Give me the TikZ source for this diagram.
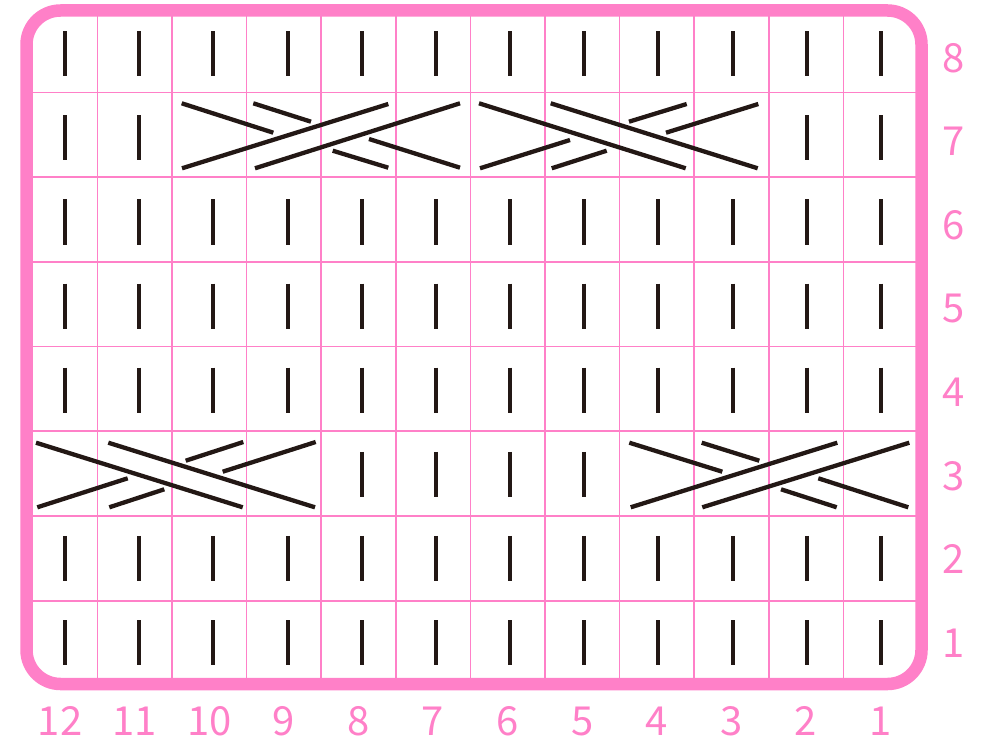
\documentclass[tikz,border=0pt]{standalone}
\usepackage{fontspec}
\newfontfamily\numfont{Noto Sans CJK JP}
\definecolor{pk}{HTML}{FF80C8}
\definecolor{ink}{HTML}{231815}
\begin{document}
\begin{tikzpicture}[x=1pt,y=-1pt,
  gridline/.style={draw=pk,line width=1.6pt},
  frame/.style={draw=pk,line width=12.5pt,rounded corners=34pt},
  knit/.style={draw=ink,line width=4pt},
  cable/.style={draw=ink,line width=4.3pt},
  num/.style={text=pk,font=\numfont\fontsize{40}{40}\selectfont,inner sep=0pt}]
\useasboundingbox (0,0) rectangle (984,743);
% grid
\foreach \i in {1,...,11}
  \draw[gridline] ({22.7+\i*74.6},8) -- ({22.7+\i*74.6},685);
\foreach \j in {1,...,7}
  \draw[gridline] (23,{7.6+\j*84.73}) -- (918,{7.6+\j*84.73});
% frame
\draw[frame] (26.5,10.5) rectangle (921.5,684);
% knit stitches
\foreach \r in {1,2,4,5,6,8}
  \foreach \c in {1,...,12}
    \draw[knit] ({65+(12-\c)*74.18},{642.5-(\r-1)*84.1-22.5}) -- ++(0,45);
\foreach \c in {1,2,11,12}
  \draw[knit] ({65+(12-\c)*74.18},{642.5-6*84.1-22.5}) -- ++(0,45);
\foreach \c in {5,6,7,8}
  \draw[knit] ({65+(12-\c)*74.18},{642.5-2*84.1-22.5}) -- ++(0,45);
% row 7 left cable
\draw[cable] (182,168.3) -- (388.3,104);
\draw[cable] (255,168.3) -- (460,103.3);
\draw[cable] (181.7,103.3) -- (273.3,132.7);
\draw[cable] (253.3,103.3) -- (311,121.7);
\draw[cable] (332.7,150.7) -- (388.3,167.7);
\draw[cable] (369,139) -- (460,167.7);
% row 7 right cable
\draw[cable] (479,103.3) -- (685.7,168.3);
\draw[cable] (550.7,103.3) -- (757.7,168.3);
\draw[cable] (480,168.3) -- (570,140);
\draw[cable] (551.7,168.3) -- (606.7,150.7);
\draw[cable] (629,121.7) -- (686.7,104);
\draw[cable] (666,132.7) -- (758.3,104);
% row 3 left cable
\draw[cable] (36,442.7) -- (242.7,507.3);
\draw[cable] (108.3,442.7) -- (315,507.3);
\draw[cable] (37.3,507.3) -- (127.7,478.3);
\draw[cable] (109.3,507.3) -- (164.3,489.3);
\draw[cable] (185.7,460.7) -- (243.3,442);
\draw[cable] (222.7,471.7) -- (315.7,442);
% row 3 right cable
\draw[cable] (630.7,507.3) -- (837.3,442.7);
\draw[cable] (702.3,507.3) -- (909.3,442.7);
\draw[cable] (629.3,442.7) -- (722.3,471.7);
\draw[cable] (701.7,442.7) -- (759.3,460.7);
\draw[cable] (781,489.3) -- (836.7,507.3);
\draw[cable] (818.3,478.3) -- (908.3,507.3);
% column numbers
\foreach \c in {1,...,12}
  \node[num] (col\c) at ({60+(12-\c)*74.6},721) {\c};
% row numbers
\foreach \r in {1,...,8}
  \node[num] (row\r) at (953.5,{58+(8-\r)*83.57}) {\r};
\end{tikzpicture}
\end{document}
